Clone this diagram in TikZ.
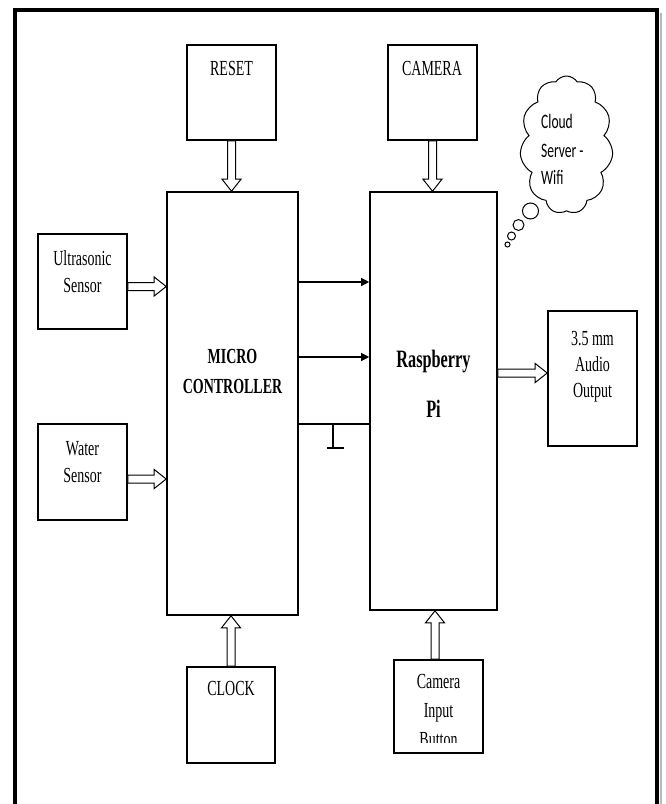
\documentclass[tikz,border=0pt]{standalone}
\usepackage{fontspec}
\setmainfont{Liberation Serif}[FakeStretch=0.65]
\newfontfamily\cloudfont{Carlito}[FakeStretch=0.66]
\usetikzlibrary{calc,fit,shapes.symbols,arrows.meta}
\begin{document}
\begin{tikzpicture}[x=1pt,y=-1pt,
  box/.style={draw, line width=1.6pt, inner sep=0pt},
  lbl/.style={inner sep=0pt, anchor=base, font=\fontsize{21.5}{24}\selectfont},
  blbl/.style={inner sep=0pt, anchor=base, font=\bfseries\fontsize{21.5}{24}\selectfont},
  rlbl/.style={inner sep=0pt, anchor=base, font=\bfseries\fontsize{25}{27}\selectfont},
  clbl/.style={inner sep=0pt, anchor=base west, font=\cloudfont\fontsize{20.5}{23}\selectfont},
  fat/.style={draw, fill=white, line width=1pt, line join=miter, to path={
    let \p1=(\tikztostart), \p2=(\tikztotarget),
        \n1={veclen(\x2-\x1,\y2-\y1)}, \n2={atan2(\y2-\y1,\x2-\x1)} in
    [shift={(\p1)}, rotate=\n2]
    (0pt,4pt) -- ({\n1*1pt-12pt},4pt) -- ({\n1*1pt-12pt},9.5pt) -- ({\n1*1pt},0pt)
    -- ({\n1*1pt-12pt},-9.5pt) -- ({\n1*1pt-12pt},-4pt) -- (0pt,-4pt) -- cycle}},
  thinarr/.style={line width=1.2pt, -{Triangle[length=8pt,width=8pt]}},
  bub/.style={circle, draw, line width=1pt, inner sep=0pt}
]
\useasboundingbox (0,0) rectangle (665,804);
% frame
\draw[gray!55, line width=2pt] (661,13) -- (661,810);
\draw[line width=4pt] (15,810) -- (15,10) -- (657,10) -- (657,810);

% boxes
\node[box, fit={(187,45)(276,140)}] (reset) {};
\node[box, fit={(388,45)(477,140)}] (camera) {};
\node[box, fit={(167,192)(298,615)}] (mc) {};
\node[box, fit={(370,192)(497,610)}] (rpi) {};
\node[box, fit={(38,234)(127,329)}] (us) {};
\node[box, fit={(38,424)(127,520)}] (ws) {};
\node[box, fit={(548,311)(637,446)}] (audio) {};
\node[box, fit={(187,667)(275,763)}] (clock) {};
\node[box, fit={(394,660)(483,753)}] (cib) {};

% labels
\node[lbl] (resetT) at (231.5,75) {RESET};
\node[lbl] (cameraT) at (432,75) {CAMERA};
\node[lbl] (usT1) at (82.5,265) {Ultrasonic};
\node[lbl] (usT2) at (82.5,292) {Sensor};
\node[lbl] (wsT1) at (82.5,455) {Water};
\node[lbl] (wsT2) at (82.5,482) {Sensor};
\node[blbl] (mcT1) at (232.5,363) {MICRO};
\node[blbl] (mcT2) at (232.5,393) {CONTROLLER};
\node[rlbl] (rpiT1) at (433.5,367) {Raspberry};
\node[rlbl] (rpiT2) at (433.5,417) {Pi};
\node[lbl] (auT1) at (592.5,345) {3.5 mm};
\node[lbl] (auT2) at (592.5,371) {Audio};
\node[lbl] (auT3) at (592.5,397) {Output};
\node[lbl] (clockT) at (231,695) {CLOCK};
\node[lbl] (cibT1) at (438.5,688) {Camera};
\node[lbl] (cibT2) at (438.5,717) {Input};
\begin{scope}
\clip (394,660) rectangle (483,742);
\node[lbl] (cibT3) at (438.5,746) {Button};
\end{scope}

% cloud
\node[cloud, draw, line width=1pt, cloud puffs=11, cloud puff arc=115, aspect=0.67,
      minimum width=93pt, minimum height=138pt, inner sep=0pt] (cloud) at (566.5,145) {};
\node[clbl] (clT1) at (541,128) {Cloud};
\node[clbl] (clT2) at (541,157) {Server -};
\node[clbl] (clT3) at (541,184) {Wifi};
\node[bub, minimum size=16pt] (b1) at (530.5,211) {};
\node[bub, minimum size=11pt] (b2) at (518.5,225) {};
\node[bub, minimum size=8pt] (b3) at (511.5,236) {};
\node[bub, minimum size=5pt] (b4) at (507.5,244.5) {};

% hollow arrows
\draw[fat] (reset.south) to (reset.south |- mc.north);
\draw[fat] (camera.south) to (camera.south |- rpi.north);
\coordinate (usp) at ([yshift=-5pt]us.east);
\draw[fat] (usp) to (usp -| mc.west);
\coordinate (wsp) at ([yshift=-7pt]ws.east);
\draw[fat] (wsp) to (wsp -| mc.west);
\coordinate (aup) at ([yshift=5.5pt]audio.west);
\draw[fat] (aup -| rpi.east) to (aup);
\draw[fat] (clock.north) to (clock.north |- mc.south);
\coordinate (cibp) at ([xshift=-3.5pt]cib.north);
\draw[fat] (cibp) to (cibp |- rpi.south);

% thin arrows
\coordinate (t1) at (298,282);
\coordinate (t2) at (298,357);
\draw[thinarr] (t1) -- (t1 -| rpi.west);
\draw[thinarr] (t2) -- (t2 -| rpi.west);
% line with ground
\coordinate (g1) at (333,424);
\coordinate (g2) at (333,448);
\draw[line width=1.2pt] (g1 -| mc.east) -- (g1 -| rpi.west);
\draw[line width=1.2pt] (g1) -- (g2);
\draw[line width=1.2pt] ([xshift=-6pt]g2) -- ([xshift=11pt]g2);
\end{tikzpicture}
\end{document}
